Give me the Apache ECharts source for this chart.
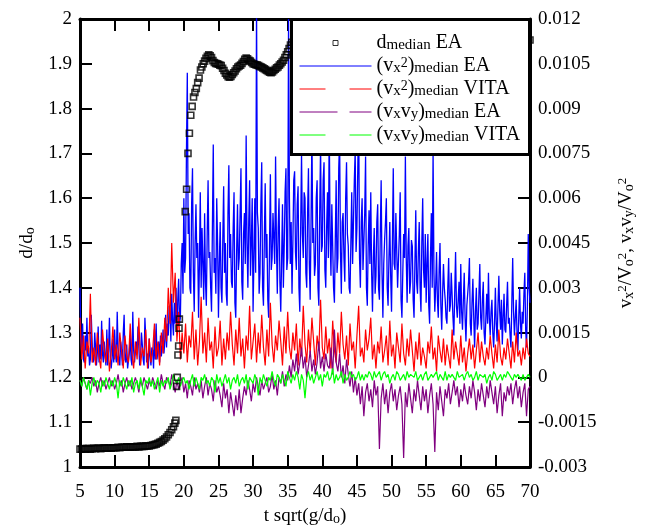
<!DOCTYPE html>
<html>
<head>
<meta charset="utf-8">
<script src="https://cdn.jsdelivr.net/npm/echarts@6/dist/echarts.min.js"></script>
<style>
  html, body { margin: 0; padding: 0; background: #fff; }
  #chart { width: 651px; height: 525px; }
</style>
</head>
<body>
<div id="chart"></div>
<script>
// time grids of the velocity series start at t sqrt(g/d_o) = 5 and end at 70
const T0 = 5
const DT = 0.25        // red, purple, green
const DT_BLUE = 0.125  // blue is sampled twice as often

// d_median EA (left axis, d/d_o)
const dTime = [
  5, 5.25, 5.5, 5.75, 6, 6.25, 6.5, 6.75, 7, 7.25, 7.5, 7.75, 8, 8.25, 8.5, 8.75,
  9, 9.25, 9.5, 9.75, 10, 10.25, 10.5, 10.75, 11, 11.25, 11.5, 11.75, 12, 12.25, 12.5, 12.75,
  13, 13.25, 13.5, 13.75, 14, 14.25, 14.5, 14.75, 15, 15.25, 15.5, 15.75, 16, 16.25, 16.5, 16.75,
  17, 17.25, 17.5, 17.75, 18, 18.25, 18.5, 18.7, 18.85,
  18.95, 19.05, 19.15, 19.25, 19.3, 19.35,
  20.2, 20.4, 20.6, 20.8, 21, 21.2, 21.4, 21.6, 21.8, 22, 22.2, 22.4, 22.6, 22.8, 23, 23.2,
  23.4, 23.6, 23.8, 24, 24.2, 24.4, 24.6, 24.8, 25, 25.2, 25.4, 25.6, 25.8, 26, 26.2, 26.4,
  26.6, 26.8, 27, 27.2, 27.4, 27.6, 27.8, 28, 28.2, 28.4, 28.6, 28.8, 29, 29.2, 29.4, 29.6,
  29.8, 30, 30.2, 30.4, 30.6, 30.8, 31, 31.2, 31.4, 31.6, 31.8, 32, 32.2, 32.4, 32.6, 32.8,
  33, 33.2, 33.4, 33.6, 33.8, 34, 34.2, 34.4, 34.6, 34.8, 35, 35.2, 35.4, 35.6,
  36, 37, 38, 39, 40, 42, 44, 46, 48, 50, 52, 54, 56, 58, 60, 62, 64, 66, 68, 70
]
const dValue = [
  1.040, 1.040, 1.041, 1.040, 1.041, 1.041, 1.040, 1.041, 1.042, 1.041, 1.042, 1.042, 1.041, 1.042, 1.043, 1.042,
  1.042, 1.043, 1.042, 1.043, 1.043, 1.043, 1.044, 1.043, 1.044, 1.044, 1.044, 1.045, 1.044, 1.045, 1.045, 1.045,
  1.045, 1.046, 1.045, 1.046, 1.046, 1.046, 1.047, 1.047, 1.047, 1.048, 1.049, 1.050, 1.051, 1.053, 1.055, 1.057,
  1.060, 1.063, 1.067, 1.072, 1.077, 1.083, 1.090, 1.098, 1.104,
  1.18, 1.20, 1.25, 1.27, 1.31, 1.33,
  1.57, 1.62, 1.70, 1.745, 1.785, 1.805, 1.826, 1.836, 1.845, 1.858, 1.868, 1.886, 1.893, 1.900, 1.906, 1.912,
  1.917, 1.920, 1.918, 1.914, 1.907, 1.903, 1.901, 1.900, 1.899, 1.897, 1.896, 1.890, 1.885, 1.879, 1.875, 1.871,
  1.870, 1.872, 1.876, 1.880, 1.884, 1.889, 1.893, 1.895, 1.897, 1.901, 1.905, 1.910, 1.913, 1.911, 1.908, 1.906,
  1.903, 1.900, 1.899, 1.898, 1.897, 1.896, 1.894, 1.893, 1.891, 1.889, 1.887, 1.885, 1.883, 1.881, 1.880, 1.882,
  1.885, 1.888, 1.891, 1.893, 1.897, 1.900, 1.904, 1.908, 1.914, 1.920, 1.927, 1.934, 1.942, 1.948,
  1.955, 1.96, 1.962, 1.958, 1.955, 1.957, 1.96, 1.962, 1.958, 1.955, 1.957, 1.96, 1.958, 1.955, 1.953, 1.955, 1.957, 1.955, 1.953, 1.953
]

// right axis series, in units of 1e-4
// (v_x^2)_median EA: one row per unit of time, 8 samples
const vx2EA = [
  30, 12, 8, 18, 6, 5, 14, 9,
  20, 7, 10, 4, 6, 21, 12, 5,
  6, 15, 10, 4, 8, 17, 5, 11,
  6, 19, 8, 5, 12, 7, 4, 16,
  4, 9, 20, 7, 3, 6, 13, 5,
  16, 8, 5, 22, 10, 6, 4, 12,
  9, 4, 15, 21, 6, 5, 11, 3,
  3, 8, 14, 6, 4, 22, 9, 5,
  5, 12, 8, 17, 10, 4, 7, 15,
  11, 6, 4, 20, 13, 5, 8, 3,
  13, 7, 4, 10, 9, 3, 16, 6,
  18, 6, 9, 12, 5, 14, 7, 10,
  16, 8, 12, 21, 10, 18, 14, 24,
  22, 12, 28, 19, 14, 25, 18, 30,
  15, 26, 33, 18, 20, 38, 45, 28,
  60, 35, 40, 75, 102, 48, 55, 30,
  28, 58, 70, 35, 22, 45, 58, 40,
  45, 20, 38, 62, 30, 50, 38, 26,
  55, 32, 24, 48, 66, 40, 42, 30,
  22, 50, 78, 35, 40, 28, 60, 45,
  20, 38, 52, 30, 25, 46, 64, 35,
  45, 28, 24, 55, 71, 40, 48, 32,
  30, 50, 62, 25, 20, 42, 58, 36,
  40, 55, 70, 32, 26, 48, 55, 38,
  81, 45, 30, 52, 66, 34, 45, 60,
  22, 40, 60, 35, 125, 55, 50, 28,
  35, 58, 72, 30, 24, 46, 65, 40,
  48, 26, 20, 44, 68, 36, 40, 55,
  55, 38, 74, 45, 28, 50, 60, 32,
  22, 40, 58, 30, 44, 62, 70, 36,
  40, 120, 60, 38, 52, 28, 45, 66,
  69, 42, 36, 58, 64, 30, 22, 50,
  75, 48, 40, 62, 60, 35, 30, 55,
  70, 38, 26, 52, 82, 45, 50, 34,
  38, 60, 66, 30, 24, 55, 78, 42,
  44, 66, 72, 36, 30, 50, 62, 40,
  85, 48, 34, 58, 58, 30, 25, 46,
  66, 35, 40, 70, 80, 42, 28, 52,
  55, 40, 32, 60, 72, 48, 44, 30,
  28, 45, 62, 38, 38, 66, 76, 42,
  50, 70, 90, 40, 30, 52, 60, 36,
  36, 55, 74, 30, 24, 44, 56, 38,
  62, 35, 22, 40, 50, 28, 34, 52,
  58, 30, 26, 48, 66, 35, 20, 38,
  46, 52, 60, 30, 24, 40, 52, 34,
  22, 45, 70, 38, 36, 55, 55, 30,
  30, 48, 62, 26, 20, 35, 48, 40,
  74, 40, 25, 44, 50, 28, 32, 46,
  44, 26, 20, 38, 56, 32, 28, 42,
  52, 30, 22, 45, 60, 36, 30, 48,
  25, 38, 48, 24, 18, 40, 55, 30,
  76, 35, 22, 30, 42, 26, 20, 36,
  45, 24, 16, 28, 38, 30, 26, 20,
  18, 30, 40, 22, 24, 35, 35, 20,
  14, 28, 42, 24, 20, 26, 32, 18,
  38, 22, 16, 26, 35, 20, 12, 24,
  24, 32, 40, 18, 14, 25, 33, 20,
  10, 22, 30, 16, 18, 28, 38, 20,
  16, 26, 32, 15, 11, 20, 28, 18,
  35, 20, 14, 22, 26, 15, 10, 18,
  30, 18, 12, 24, 34, 22, 16, 26,
  11, 20, 28, 16, 15, 24, 32, 18,
  20, 14, 10, 25, 40, 22, 14, 20,
  26, 15, 9, 20, 30, 18, 13, 22,
  18, 28, 35, 16, 10, 24, 48, 30,
  25
]
// the other three: one row per unit of time, 4 samples
const vx2VITA = [
  20, 6, 14, 3,  12, 8, 28, 5,  10, 4, 15, 7,  3, 16, 9, 5,
  13, 2, 8, 17,  6, 11, 4, 15,  9, 3, 14, 7,  5, 18, 8, 3,
  12, 6, 20, 4,  10, 7, 16, 3,  13, 5, 9, 18,  6, 12, 4, 15,
  8, 20, 12, 30,  18, 45, 25, 35,  12, 22, 6, 15,  8, 18, 5, 14,
  10, 22, 6, 16,  4, 12, 27, 8,  15, 5, 20, 9,  12, 3, 17, 7,
  10, 19, 4, 13,  6, 15, 9, 22,  11, 4, 16, 8,  20, 7, 13, 3,
  14, 9, 24, 6,  12, 18, 5, 15,  8, 21, 10, 4,  16, 7, 25, 11,
  5, 14, 9, 19,  12, 4, 17, 8,  22, 10, 6, 15,  9, 18, 4, 13,
  7, 24, 11, 5,  16, 8, 20, 12,  4, 14, 9, 26,  10, 6, 17, 8,
  13, 3, 19, 9,  5, 15, 8, 22,  11, 6, 14, 4,  18, 9, 12, 3,
  14, 24, 7, 10,  5, 16, 9, 13,  20, 6, 11, 3,  12, 8, 17, 5,
  9, 14, 4, 19,  7, 11, 3, 15,  10, 5, 18, 8,  4, 13, 7, 16,
  9, 2, 12, 6,  15, 4, 10, 7,  3, 12, 8, 17,  6, 10, 2, 14,
  9, 5, 13, 4,  11, 7, 3, 16,  6, 12, 8, 4,  14, 5, 10, 2,
  8, 13, 6, 11,  3, 9, 15, 5,  12, 7, 4, 10,  6, 14, 8, 3,
  11, 5, 16, 7,  4, 10, 6, 13,  8, 3, 12, 5,  15, 7, 9, 4,
  10, 6, 13, 8,
  7
]
const vxvyEA = [
  -1, -3, 0, -2,  -4, -1, -2, 0,  -3, -1, -5, -2,  0, -3, -1, -4,
  -2, 0, -3, -1,  -4, -2, 1, -3,  -1, -5, -2, 0,  -3, -1, -4, -2,
  0, -2, -5, -1,  -3, 0, -2, -4,  -1, -3, 0, -2,  -4, -1, -3, 1,
  -2, -4, 0, -1,  -3, 1, -2, -5,  -1, -4, -2, 0,  -5, -2, -7, -1,
  -3, -6, 0, -4,  -2, -5, -1, -7,  -3, 0, -6, -2,  -4, -8, -1, -5,
  -3, -6, -10, -2,  -7, -4, -12, -5,  -9, -13, -6, -11,  -4, -12, -7, -3,
  -6, -1, -4, -8,  -2, -5, 0, -3,  -6, -1, -4, -2,  0, -5, -3, 1,
  -4, -1, -6, 0,  -2, 2, -3, 1,  -1, 4, 0, 6,  2, 8, 1, 5,
  10, 3, 7, 0,  4, 9, 2, 6,  1, 5, 12, 3,  7, 2, 8, 4,
  3, 10, 1, 16,  5, 2, 8, 0,  4, -2, 6, 1,  -3, 2, -5, 0,
  -6, -2, -9, -3,  -13, -5, -2, -8,  -4, -10, -1, -6,  -3, -24, -7, -2,
  -9, -4, -12, -5,  -2, -8, -4, -11,  -6, -3, -9, -27,  -5, -10, -2, -7,
  -12, -4, -8, -1,  -6, -11, -3, -8,  -4, -12, -6, -2,  -9, -25, -5, -11,
  -3, -8, -13, -4,  -7, -2, -9, -5,  -1, -6, -3, -10,  -4, -8, -2, -6,
  -9, -3, -7, -1,  -5, -11, -4, -8,  -2, -6, -10, -3,  -7, -1, -5, -9,
  -3, -12, -6, -2,  -13, -5, -8, -3,  -6, -2, -9, -4,  -1, -7, -3, -10,
  -5, -2, -13, -4,
  -3
]
const vxvyVITA = [
  -1, -3, 0, -2,  -4, -1, -6, -2,  0, -3, -1, -2,  -5, -1, -3, 0,
  -2, -4, -1, -3,  0, -2, -7, -1,  -3, 0, -2, -4,  -1, -3, 0, -5,
  -2, -1, -4, 0,  -3, -6, -1, -2,  0, -3, -1, -4,  -2, 0, -5, -1,
  -3, -1, -2, 0,  -4, -2, 1, -1,  -2, 0, -3, -1,  0, -2, -1, -4,
  -1, 1, -3, 0,  -2, -4, 0, -1,  1, -2, -1, -3,  0, -1, -5, 1,
  -2, 0, -3, -1,  1, -2, 0, -4,  -1, 0, -2, 1,  -3, -1, 0, -2,
  1, -4, 0, -1,  -2, 1, -1, -6,  0, -2, 1, -1,  -3, 0, -1, 2,
  -1, -3, 1, 0,  -2, 1, -1, -3,  2, 0, -2, 1,  -1, 2, 0, -4,
  1, -1, -7, 0,  2, -1, 1, -2,  0, 2, -1, 1,  -3, 1, 0, 2,
  -1, 0, 3, -2,  1, -1, 0, 2,  -2, 1, -1, 0,  2, 0, 1, -1,
  0, 2, -1, 1,  -1, 1, 0, 2,  1, -1, 2, 0,  0, 2, -1, 1,
  2, 0, 1, -2,  0, 1, -1, 2,  1, -1, 0, 1,  -1, 2, 0, 1,
  1, 0, 2, -1,  0, 1, -1, 1,  2, -1, 0, 1,  0, 1, 2, -1,
  1, 0, -1, 2,  -1, 1, 0, 1,  1, -1, 2, 0,  0, 1, -1, 1,
  2, 0, 1, -1,  0, 2, -1, 1,  1, 0, 1, -2,  0, 1, -1, 2,
  1, -1, 0, 1,  -1, 1, 0, 2,  1, 0, -1, 1,  0, 1, 1, -1,
  1, -1, 0, 1,
  0
]

const xTicks = { min: 5, max: 70, step: 5 }
const leftTicks = { min: 1, max: 2, step: 0.1 }
const rightTicks = { min: -0.003, max: 0.012, step: 0.0015 }

const FONT = 'Liberation Serif'
const rich = (big, small) => ({
  n: { fontFamily: FONT, fontSize: big, lineHeight: 20, color: '#000' },
  s: { fontFamily: FONT, fontSize: small, lineHeight: 12, verticalAlign: 'bottom', color: '#000' },
  p: { fontFamily: FONT, fontSize: small - 1, lineHeight: 12, verticalAlign: 'top', color: '#000' }
})

const legendText = {
  'd EA': '{n|d}{s|median}{n| EA}',
  'vx2 EA': '{n|(v}{s|x}{p|2}{n|)}{s|median}{n| EA}',
  'vx2 VITA': '{n|(v}{s|x}{p|2}{n|)}{s|median}{n| VITA}',
  'vxvy EA': '{n|(v}{s|x}{n|v}{s|y}{n|)}{s|median}{n| EA}',
  'vxvy VITA': '{n|(v}{s|x}{n|v}{s|y}{n|)}{s|median}{n| VITA}'
}

const toPairs = (arr, dt) => arr.map((v, i) => [T0 + i * dt, v * 1e-4])

const chart = echarts.init(document.getElementById('chart'))

const axisCommon = {
  axisLine: { show: true, onZero: false, lineStyle: { color: '#000', width: 3 } },
  axisTick: { show: true, inside: true, length: 12, lineStyle: { color: '#000', width: 2 } },
  splitLine: { show: false },
  axisLabel: { color: '#000', fontFamily: FONT, fontSize: 19 }
}
const noDot = { color: 'rgba(0,0,0,0)', borderWidth: 0 }

chart.setOption({
  animation: false,
  backgroundColor: '#fff',
  grid: { left: 80, right: 121, top: 19, bottom: 58, outerBoundsMode: 'none', containLabel: false },
  graphic: [{
    type: 'rect', z: 100,
    shape: { x: 291.5, y: 19.5, width: 238, height: 135 },
    style: { fill: '#fff', stroke: '#000', lineWidth: 3 }
  }],
  legend: {
    z: 200,
    orient: 'vertical',
    left: 299, top: 33,
    padding: 0,
    itemWidth: 72, itemHeight: 14, itemGap: 3,
    selectedMode: false,
    formatter: name => legendText[name],
    textStyle: { fontFamily: FONT, fontSize: 20, color: '#000', rich: rich(20, 15) },
    data: [
      { name: 'd EA', icon: 'path://M0,0M72,14M33.5,4.5h5v5h-5z',
        itemStyle: { color: 'rgba(0,0,0,0)', borderColor: '#000', borderWidth: 1 } },
      { name: 'vx2 EA', itemStyle: noDot, lineStyle: { width: 1 } },
      { name: 'vx2 VITA', itemStyle: noDot, lineStyle: { width: 1, type: [26, 24] } },
      { name: 'vxvy EA', itemStyle: noDot, lineStyle: { width: 1, type: [38, 12] } },
      { name: 'vxvy VITA', itemStyle: noDot, lineStyle: { width: 1, type: [26, 24] } }
    ]
  },
  xAxis: [{
    type: 'value', position: 'bottom',
    min: xTicks.min, max: xTicks.max, interval: xTicks.step,
    ...axisCommon,
    axisLabel: { ...axisCommon.axisLabel, margin: 16 },
    name: '{n|t sqrt(g/d}{s|o}{n|)}',
    nameLocation: 'middle', nameGap: 35,
    nameTextStyle: { rich: rich(19, 14) }
  }, {
    type: 'value', position: 'top',
    min: xTicks.min, max: xTicks.max, interval: xTicks.step,
    ...axisCommon,
    axisLabel: { show: false }
  }],
  yAxis: [{
    type: 'value', position: 'left',
    min: leftTicks.min, max: leftTicks.max, interval: leftTicks.step,
    ...axisCommon,
    axisLabel: { ...axisCommon.axisLabel, margin: 8, formatter: v => String(+v.toFixed(1)) },
    name: '{n|d/d}{s|o}',
    nameLocation: 'middle', nameGap: 40, nameRotate: 90,
    nameTextStyle: { rich: rich(19, 14) }
  }, {
    type: 'value', position: 'right',
    min: rightTicks.min, max: rightTicks.max, interval: rightTicks.step,
    ...axisCommon,
    axisLabel: { ...axisCommon.axisLabel, margin: 8, formatter: v => String(+v.toFixed(4)) },
    name: '{n|v}{s|x}{p|2}{n|/V}{s|o}{p|2}{n|, v}{s|x}{n|v}{s|y}{n|/V}{s|o}{p|2}',
    nameLocation: 'middle', nameGap: 86, nameRotate: 90,
    nameTextStyle: { rich: rich(19, 14) }
  }],
  series: [
    { name: 'vx2 EA', type: 'line', yAxisIndex: 1, symbol: 'none', data: toPairs(vx2EA, DT_BLUE),
      lineStyle: { color: '#0000ff', width: 1.3 }, itemStyle: { color: '#0000ff' } },
    { name: 'vx2 VITA', type: 'line', yAxisIndex: 1, symbol: 'none', data: toPairs(vx2VITA, DT),
      lineStyle: { color: '#ff0000', width: 1.2 }, itemStyle: { color: '#ff0000' } },
    { name: 'vxvy EA', type: 'line', yAxisIndex: 1, symbol: 'none', data: toPairs(vxvyEA, DT),
      lineStyle: { color: '#800080', width: 1.2 }, itemStyle: { color: '#800080' } },
    { name: 'vxvy VITA', type: 'line', yAxisIndex: 1, symbol: 'none', data: toPairs(vxvyVITA, DT),
      lineStyle: { color: '#00ff00', width: 1.2 }, itemStyle: { color: '#00ff00' } },
    { name: 'd EA', type: 'scatter', yAxisIndex: 0, z: 3, symbol: 'rect', symbolSize: 6,
      data: dTime.map((t, i) => [t, dValue[i]]),
      itemStyle: { color: 'rgba(0,0,0,0)', borderColor: '#000', borderWidth: 1.6 } }
  ]
})
</script>
</body>
</html>
